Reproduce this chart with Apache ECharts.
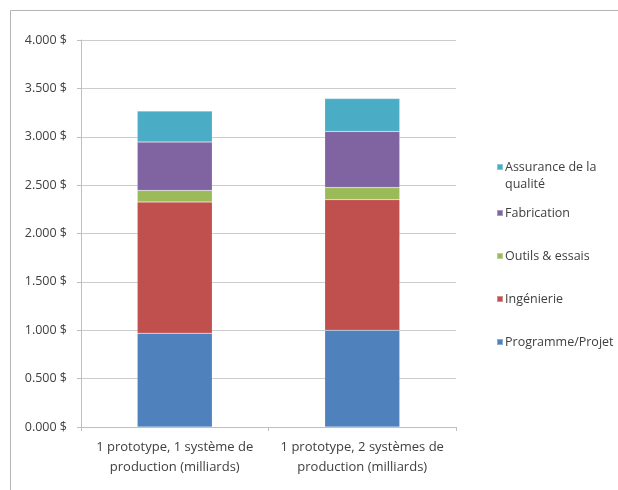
<!DOCTYPE html>
<html>
<head>
<meta charset="utf-8">
<script src="https://cdn.jsdelivr.net/npm/echarts@6/dist/echarts.min.js"></script>
<style>
  html, body { margin: 0; padding: 0; background: #fff; }
  #chart { width: 618px; height: 490px; }
</style>
</head>
<body>
<div id="chart"></div>
<script>
// Cost breakdown per scenario (stacked, in billions)
const categories = [
  '1 prototype, 1 système de\nproduction (milliards)',
  '1 prototype, 2 systèmes de\nproduction (milliards)'
];
const programmeProjet = [970, 1000];
const ingenierie = [1355, 1350];
const outilsEssais = [120, 125];
const fabrication = [500, 580];
const assuranceQualite = [320, 340];

const yTickLabels = ['0.000 $', '0.500 $', '1.000 $', '1.500 $', '2.000 $',
                     '2.500 $', '3.000 $', '3.500 $', '4.000 $'];

const seriesDefs = [
  { name: 'Programme/Projet', data: programmeProjet, color: '#4F81BD' },
  { name: 'Ingénierie', data: ingenierie, color: '#C0504D' },
  { name: 'Outils & essais', data: outilsEssais, color: '#9BBB59' },
  { name: 'Fabrication', data: fabrication, color: '#8064A2' },
  { name: 'Assurance de la qualité', data: assuranceQualite, color: '#4BACC6' }
];

const FONT = '"Open Sans"';
const TEXT = '#404040';

const chart = echarts.init(document.getElementById('chart'), null, { renderer: 'canvas' });

const legendText = { color: TEXT, fontFamily: FONT, fontSize: 12.5 };

chart.setOption({
  backgroundColor: '#ffffff',
  animation: false,
  graphic: [
    // outer frame (top and left edges)
    { type: 'line', shape: { x1: 10.5, y1: 10.5, x2: 618, y2: 10.5 },
      style: { stroke: '#b4b4b4', lineWidth: 1 } },
    { type: 'line', shape: { x1: 10.5, y1: 10.5, x2: 10.5, y2: 490 },
      style: { stroke: '#b4b4b4', lineWidth: 1 } }
  ],
  grid: { left: 81, right: 162, top: 40, bottom: 63, containLabel: false },
  legend: [
    {
      // two-line entry: square kept level with the first line
      data: ['Assurance de la qualité'],
      orient: 'vertical',
      left: 496, top: 159,
      padding: 0,
      itemWidth: 6, itemHeight: 24,
      icon: 'path://M0,0h6v6h-6zM0,24',
      itemGap: 0,
      selectedMode: false,
      formatter: () => 'Assurance de la\nqualité',
      textStyle: Object.assign({ lineHeight: 17, padding: [0, 0, 0, -3] }, legendText)
    },
    {
      data: ['Fabrication', 'Outils & essais', 'Ingénierie', 'Programme/Projet'],
      orient: 'vertical',
      left: 496, top: 205,
      padding: 0,
      itemWidth: 6, itemHeight: 6,
      icon: 'rect',
      itemGap: 27,
      selectedMode: false,
      textStyle: Object.assign({ lineHeight: 16, padding: [0, 0, 0, -3] }, legendText)
    }
  ],
  xAxis: {
    type: 'category',
    data: categories,
    axisLine: { show: true, lineStyle: { color: '#bfbfbf', width: 1 } },
    axisTick: { show: true, length: 4, alignWithLabel: false, lineStyle: { color: '#bfbfbf' } },
    axisLabel: {
      color: TEXT, fontFamily: FONT, fontSize: 13, lineHeight: 20,
      margin: 10, interval: 0
    }
  },
  yAxis: {
    type: 'value',
    min: 0, max: 4000, interval: 500,
    axisLine: { show: true, lineStyle: { color: '#bfbfbf', width: 1 } },
    axisTick: { show: true, length: 4, lineStyle: { color: '#bfbfbf' } },
    splitLine: { show: true, lineStyle: { color: '#cccccc', width: 1 } },
    axisLabel: {
      color: TEXT, fontFamily: FONT, fontSize: 12.5, margin: 14,
      formatter: (v) => yTickLabels[Math.round(v / 500)]
    }
  },
  series: seriesDefs.map(s => ({
    name: s.name,
    type: 'bar',
    stack: 'cout',
    barWidth: '40%',
    data: s.data,
    itemStyle: { color: s.color, borderColor: 'rgba(255,255,255,0.35)', borderWidth: 0.5 },
    emphasis: { disabled: true }
  }))
});
</script>
</body>
</html>
